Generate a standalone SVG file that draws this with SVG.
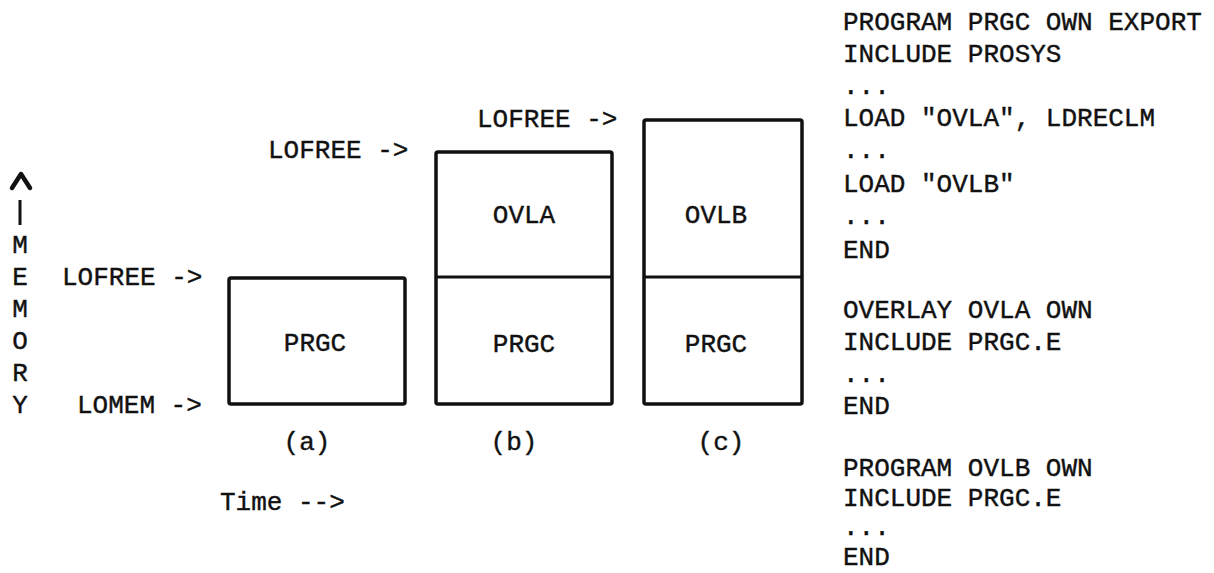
<svg xmlns="http://www.w3.org/2000/svg" width="1214" height="573" viewBox="0 0 1214 573">
<style>
text{font-family:"Liberation Mono","Courier New",monospace;font-size:26px;fill:#111;stroke:#111;stroke-width:0.4px}
.c{text-anchor:middle}
.box{fill:none;stroke:#111;stroke-width:3.5;stroke-linejoin:round}
.div{stroke:#111;stroke-width:2.8}
</style>
<rect width="1214" height="573" fill="#fff"/>
<g id="axis">
<path d="M12,188 L21,174 L30,188" fill="none" stroke="#111" stroke-width="4.5" stroke-linecap="round" stroke-linejoin="round"/>
<line x1="20" y1="200" x2="20" y2="225" stroke="#111" stroke-width="3"/>
<text x="20" y="253" class="c">M</text>
<text x="20" y="285" class="c">E</text>
<text x="20" y="317" class="c">M</text>
<text x="20" y="349" class="c">O</text>
<text x="20" y="381" class="c">R</text>
<text x="20" y="413" class="c">Y</text>
</g>
<g id="pointers">
<text x="268" y="158">LOFREE -&gt;</text>
<text x="477" y="127">LOFREE -&gt;</text>
<text x="62" y="285">LOFREE -&gt;</text>
<text x="77" y="413">LOMEM -&gt;</text>
</g>
<g id="box-a">
<rect class="box" x="229" y="278" width="176" height="126" rx="2"/>
<text x="315" y="351" class="c">PRGC</text>
<text x="307" y="450" class="c">(a)</text>
</g>
<g id="box-b">
<rect class="box" x="436" y="152" width="176" height="252" rx="2"/>
<line class="div" x1="436" y1="277" x2="612" y2="277"/>
<text x="524" y="223" class="c">OVLA</text>
<text x="524" y="352" class="c">PRGC</text>
<text x="514" y="450" class="c">(b)</text>
</g>
<g id="box-c">
<rect class="box" x="644" y="120" width="158" height="284" rx="2"/>
<line class="div" x1="644" y1="277" x2="802" y2="277"/>
<text x="716" y="223" class="c">OVLB</text>
<text x="716" y="352" class="c">PRGC</text>
<text x="721" y="450" class="c">(c)</text>
</g>
<g id="time">
<text x="220" y="510">Time --&gt;</text>
</g>
<g id="code">
<text x="843" y="30">PROGRAM PRGC OWN EXPORT</text>
<text x="843" y="62">INCLUDE PROSYS</text>
<text x="843" y="94">...</text>
<text x="843" y="126">LOAD "OVLA", LDRECLM</text>
<text x="843" y="158">...</text>
<text x="843" y="192">LOAD "OVLB"</text>
<text x="843" y="224">...</text>
<text x="843" y="258">END</text>
<text x="843" y="318">OVERLAY OVLA OWN</text>
<text x="843" y="350">INCLUDE PRGC.E</text>
<text x="843" y="382">...</text>
<text x="843" y="414">END</text>
<text x="843" y="476">PROGRAM OVLB OWN</text>
<text x="843" y="506">INCLUDE PRGC.E</text>
<text x="843" y="535">...</text>
<text x="843" y="565">END</text>
</g>
<g id="connectors"></g>
</svg>
